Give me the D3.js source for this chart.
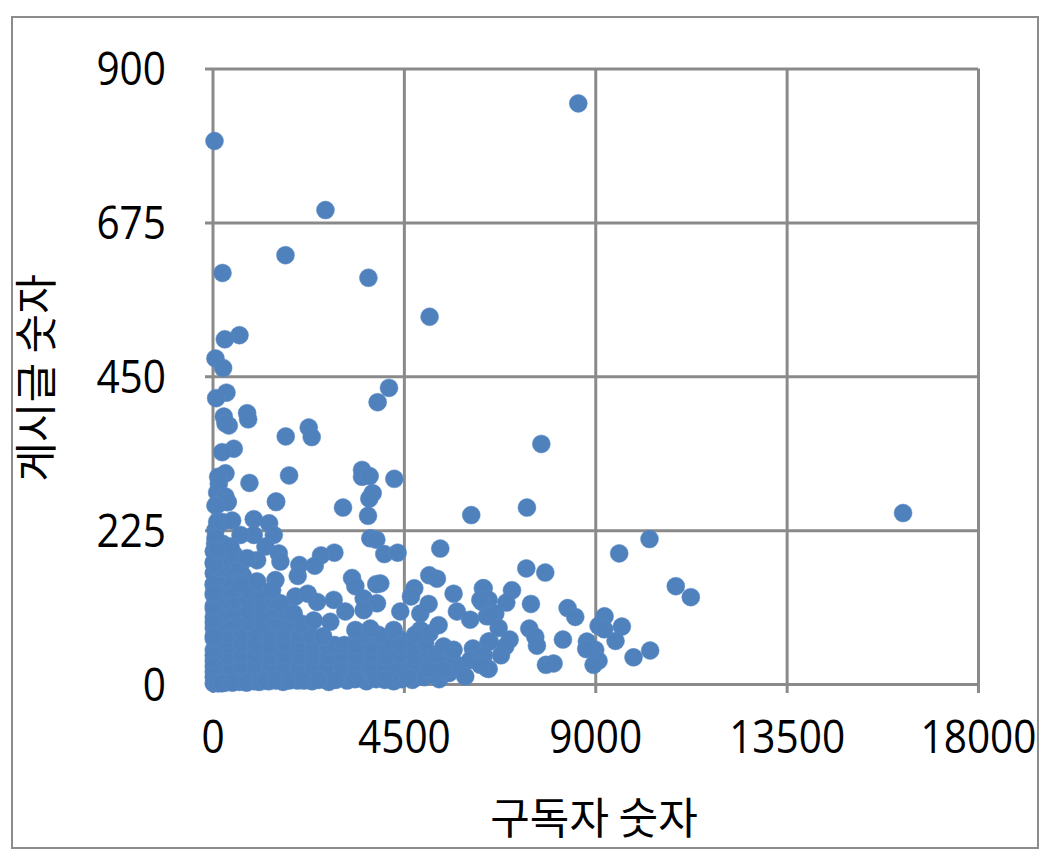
<!DOCTYPE html>
<html><head><meta charset="utf-8">
<script src="https://cdn.jsdelivr.net/npm/d3@7"></script>
<style>html,body{margin:0;background:#fff}svg{display:block}</style>
</head><body><svg id="c" width="1054" height="864"></svg>
<script>
const xTicks=[0,4500,9000,13500,18000];
const yTicks=[0,225,450,675,900];
const xTitle="구독자 숫자";
const yTitle="게시글 숫자";
// [subscribers, posts]
const upperPoints=[[8601,849],[47,794],[2656,693],[1716,627],[235,601],[3666,594],[5105,537],[634,510],[290,504],[70,476],[250,462],[329,426],[86,418],[4150,433],[3883,412],[814,396],[838,387],[266,391],[383,378],[305,381],[1722,362],[2263,375],[2333,361],[7732,351],[501,344],[227,339],[305,308],[133,303],[869,294],[1801,305],[3516,313],[3516,303],[3696,304],[4275,300],[3766,279],[3688,271],[149,293],[110,280],[305,274],[360,266],[70,261],[1495,267],[3069,258],[3657,246],[6084,247],[7394,258],[16238,250]];
const midPoints=[[110,262],[344,266],[1495,266],[110,237],[227,237],[462,239],[971,241],[1331,235],[1441,218],[971,218],[658,218],[70,213],[1245,201],[1558,191],[1597,179],[1049,181],[814,184],[31,176],[423,201],[110,196],[3711,213],[3852,211],[4040,190],[4353,192],[5356,198],[2866,192],[2552,188],[2404,173],[2043,174],[2004,158],[3281,155],[3359,143],[3852,146],[3946,147],[5097,159],[5277,154],[4745,140],[4667,128],[5669,132],[6358,140],[6334,120],[1480,152],[1049,150],[1401,137],[658,145],[31,133],[1950,128],[2239,132],[2459,120],[2850,123],[2772,91],[3124,106],[2380,93],[3555,125],[3868,118],[3555,108],[3359,79],[3711,81],[4416,106],[4886,103],[5082,117],[5317,86],[5747,106],[6060,94],[6452,99],[1910,103],[5434,55],[5669,50],[6123,52],[6491,62],[6060,35],[5943,11],[6452,23],[10276,212],[9563,191],[10894,143],[11247,127],[7379,169],[7825,163],[7042,137],[6909,119],[6376,140],[6494,123],[6298,123],[6650,103],[6533,99],[6729,82],[7488,117],[8350,111],[8530,98],[9219,99],[9626,84],[9078,85],[9211,80],[9477,63],[7449,81],[7590,69],[7629,56],[8240,65],[8804,62],[9000,50],[8788,51],[9078,34],[8960,28],[9900,39],[10291,49],[7841,28],[8020,30],[6987,65],[6517,62],[6885,55],[6783,42],[6376,42],[6494,22],[6298,28]];
const densePoints=[[30,1],[300,2],[640,3],[980,4],[1320,4],[1660,3],[2000,5],[2340,4],[2733,3],[3165,5],[3620,4],[4260,4],
[30,18],[200,16],[520,19],[860,17],[1180,18],[1520,16],[1860,17],[2200,19],[2540,16],[2880,18],[3220,17],[3560,19],[3900,16],[4240,18],[4560,17],[4800,12],[5330,7],
[30,34],[330,33],[670,35],[1010,34],[1350,32],[1690,35],[2030,33],[2370,34],[2710,32],[3050,35],[3390,33],[3730,34],[4070,32],[4410,35],[4750,33],[5090,34],[5430,32],[5700,30],
[30,50],[190,49],[510,51],[850,50],[1190,48],[1530,51],[1870,49],[2210,50],[2550,48],[2890,52],[3230,49],[3570,50],[3910,48],[4250,51],[4590,49],[4930,50],
[30,66],[340,65],[680,67],[1020,66],[1360,64],[1700,67],[2040,65],[2380,66],[2537,64],[3400,66],[3740,64],[4080,66],[4420,65],[4760,64],
[30,82],[190,81],[510,83],[850,82],[1190,80],[1530,83],[1870,81],[2210,78],[4260,79],[4886,79],
[30,98],[340,97],[680,99],[1020,98],[1360,96],[1700,99],[2000,90],
[30,114],[190,113],[510,115],[850,114],[1190,112],[1530,115],[1780,110],
[30,130],[340,129],[680,131],[1020,130],[1330,128],
[30,146],[190,145],[510,147],[800,146],
[30,162],[340,161],[620,163],
[30,178],[190,177],[500,179],
[30,194],[340,193],[70,225]];
const packedPoints=[[150,8],[470,9],[810,10],[1150,9],[1490,8],[1830,10],[2170,9],[2510,8],[2850,9],[3190,10],[3400,8],[3800,9],[4060,8],[4400,9],[4700,6],[4980,10],[5180,14],[5560,16],[5800,22],
[160,26],[360,26],[690,27],[1020,26],[1350,25],[1700,26],[2040,25],[2370,26],[2710,24],[3050,26],[3390,25],[3730,26],[4070,24],[4400,26],[4740,24],[5090,22],[5420,20],
[170,42],[350,41],[680,43],[1020,42],[1360,41],[1700,43],[2040,41],[2380,42],[2720,40],[3060,43],[3400,41],[3740,42],[4080,40],[4420,43],[4760,41],[5100,42],[5280,44],
[180,58],[350,57],[680,59],[1020,58],[1360,56],[1700,59],[2040,57],[2380,58],[2720,56],[2870,57],[3100,57],[3400,57],[3740,56],[4080,58],[4420,57],[4760,56],[5000,60],
[160,74],[350,73],[680,75],[1020,74],[1360,72],[1700,75],[2040,73],[2300,72],[2600,70],[3560,72],[3900,72],[4760,72],[5100,74],
[170,90],[350,89],[510,91],[850,90],[1190,88],[1530,91],[1870,89],[2100,88],
[180,106],[350,105],[500,107],[850,106],[1190,104],[1530,107],[1700,106],
[170,122],[350,121],[510,123],[850,122],[1190,120],[1450,122],[1600,118],
[180,138],[350,137],[510,139],[850,138],[1160,136],
[170,154],[350,153],[500,155],[720,158],
[180,170],[350,169],[500,171],[650,172],
[170,186],[320,185],[500,190],[240,205],[60,205],[30,145],[30,110],[30,90],[30,70],[30,42],[30,26],[30,10]];
const bottomEdgePoints=[[130,1],[220,1],[470,2],[800,2],[1100,3],[1250,5],[1500,5],[1800,5],[2150,5],[2500,6],[2900,6],[3350,7],[3850,7],[4050,6],[4450,7],[4600,9]];
const allPoints=[...densePoints,...packedPoints,...bottomEdgePoints,...midPoints,...upperPoints];

const svg=d3.select("#c");
svg.append("rect").attr("x",12).attr("y",17).attr("width",1026).attr("height",831).attr("fill","#fff").attr("stroke","#8c8c8c").attr("stroke-width",2);
const x=d3.scaleLinear().domain([0,18000]).range([212.5,978]);
const y=d3.scaleLinear().domain([0,900]).range([684,68.5]);
const gridColor="#8a8a8a",numFont="'Open Sans'",digitW=23.2;
const gx=svg.append("g").attr("transform","translate(0,684)").call(d3.axisBottom(x).tickValues(xTicks).tickFormat(d=>d).tickSizeOuter(0));
gx.select(".domain").remove();
gx.selectAll("line").attr("y1",9).attr("y2",-615.5).attr("stroke",gridColor).attr("stroke-width",3);
gx.selectAll("text").attr("y",69).attr("dy",0).attr("fill","#000").attr("font-family",numFont).attr("font-size",46)
  .attr("textLength",d=>String(d).length*digitW).attr("lengthAdjust","spacingAndGlyphs");
const gy=svg.append("g").attr("transform","translate(212,0)").call(d3.axisLeft(y).tickValues(yTicks).tickFormat(d=>d).tickSizeOuter(0));
gy.select(".domain").remove();
gy.selectAll("line").attr("x1",-7).attr("x2",766).attr("stroke",gridColor).attr("stroke-width",3);
gy.selectAll("text").attr("x",-46).attr("dy",0).attr("y",16).attr("fill","#000").attr("font-family",numFont).attr("font-size",46)
  .attr("textLength",d=>String(d).length*digitW).attr("lengthAdjust","spacingAndGlyphs");
svg.append("g").selectAll("circle").data(allPoints).join("circle")
  .attr("cx",d=>x(d[0])).attr("cy",d=>y(d[1])).attr("r",9)
  .attr("fill","#4f81bd").attr("stroke","#5b8bc4").attr("stroke-width",.5);
svg.append("text").attr("x",594).attr("y",834).attr("text-anchor","middle").attr("font-family","'Noto Sans CJK KR'").attr("font-size",43).attr("fill","#000").text(xTitle);
svg.append("text").attr("transform","translate(52,378) rotate(-90)").attr("text-anchor","middle").attr("font-family","'Noto Sans CJK KR'").attr("font-size",43).attr("fill","#000").text(yTitle);
</script></body></html>
